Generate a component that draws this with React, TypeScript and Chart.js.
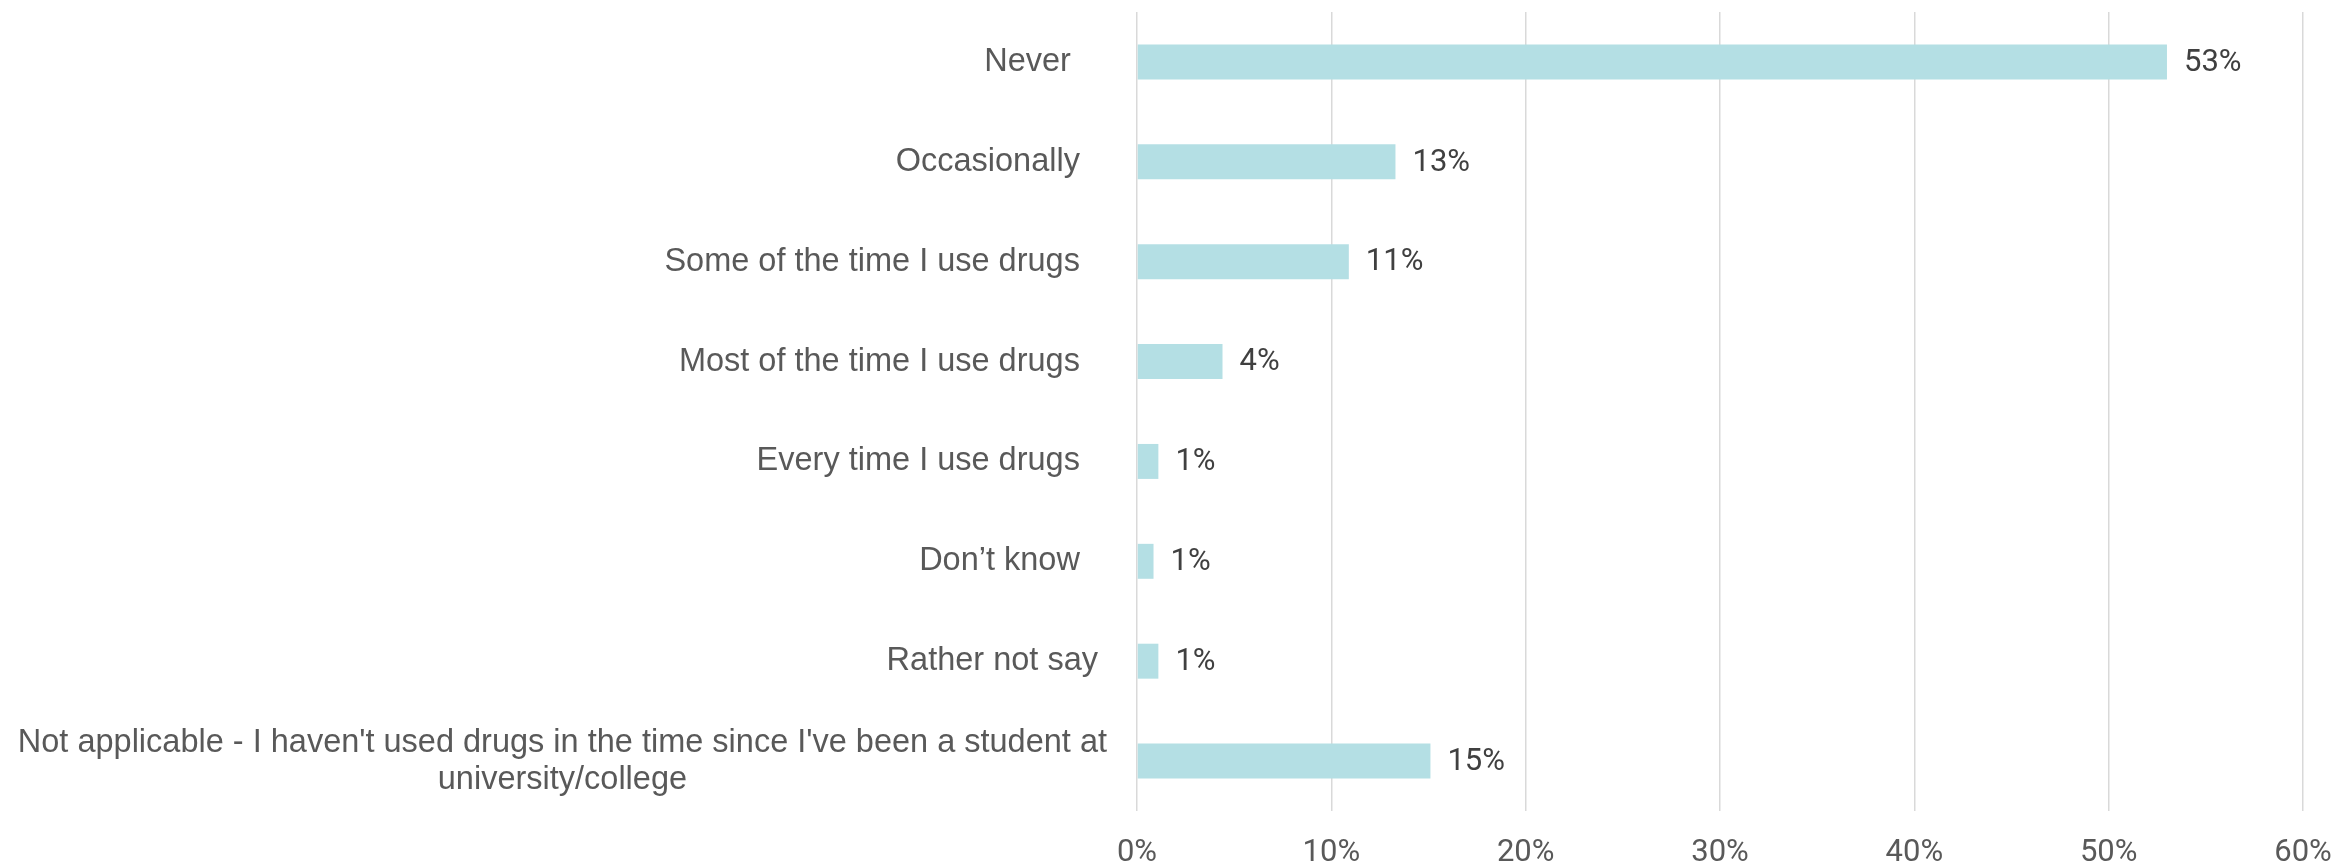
import React, { useEffect, useRef } from "react";
import { Chart, registerables } from "chart.js";

Chart.register(...registerables);

// Category labels (trailing spaces reproduce the original label offsets)
const categories: (string | string[])[] = [
  "Never    ",
  "Occasionally   ",
  "Some of the time I use drugs   ",
  "Most of the time I use drugs   ",
  "Every time I use drugs   ",
  "Don’t know   ",
  "Rather not say ",
  [
    "Not applicable - I haven't used drugs in the time since I've been a student at",
    "university/college",
  ],
];

// Percent values
const values = [53.0, 13.3, 10.9, 4.4, 1.1, 0.85, 1.1, 15.1];

// Axis tick range
const xMin = 0;
const xMax = 60;
const xStep = 10;

const BAR_COLOR = "#B4DFE4";
const GRID_COLOR = "#D9D9D9";
const LABEL_COLOR = "#595959";
const VALUE_COLOR = "#404040";
const CAT_FONT = "Liberation Sans";
const NUM_FONT = "Roboto";
const CAT_SIZE = 32.5;
const NUM_SIZE = 31;

const Y_PAD = 30;

const dataLabelPlugin = {
  id: "dataLabels",
  afterDatasetsDraw(chart: any) {
    const ctx = chart.ctx;
    const meta = chart.getDatasetMeta(0);
    ctx.save();
    ctx.font = `${NUM_SIZE}px "${NUM_FONT}"`;
    ctx.fillStyle = VALUE_COLOR;
    ctx.textAlign = "left";
    ctx.textBaseline = "middle";
    meta.data.forEach((bar: any, i: number) => {
      const p = bar.getProps(["x", "y"], true);
      ctx.fillText(Math.round(values[i]) + "%", p.x + 17, p.y + 1);
    });
    ctx.restore();
  },
};

const multiLineLabelPlugin = {
  id: "multiLineLabel",
  afterDraw(chart: any) {
    const scale = chart.scales.y;
    const ctx = chart.ctx;
    ctx.save();
    ctx.font = `${CAT_SIZE}px "${CAT_FONT}"`;
    ctx.fillStyle = LABEL_COLOR;
    ctx.textAlign = "center";
    ctx.textBaseline = "middle";
    const lineH = 37;
    (chart.data.labels as any[]).forEach((lab, i) => {
      if (!Array.isArray(lab)) return;
      const widest = Math.max(...lab.map((l: string) => ctx.measureText(l).width));
      const cx = scale.right - Y_PAD - widest / 2;
      const cy = scale.getPixelForTick(i);
      const y0 = cy - ((lab.length - 1) * lineH) / 2;
      lab.forEach((l: string, k: number) => ctx.fillText(l, cx, y0 + k * lineH));
    });
    ctx.restore();
  },
};

export default function App() {
  const ref = useRef<HTMLCanvasElement>(null);

  useEffect(() => {
    if (!ref.current) return;
    const chart = new Chart(ref.current, {
      type: "bar",
      data: {
        labels: categories as any,
        datasets: [
          {
            data: values,
            backgroundColor: BAR_COLOR,
            borderWidth: 0,
            barPercentage: 0.35,
            categoryPercentage: 1,
          },
        ],
      },
      options: {
        indexAxis: "y",
        responsive: false,
        animation: false,
        devicePixelRatio: 1,
        layout: { padding: { top: 12, right: 31, bottom: 0, left: 0 } },
        plugins: {
          legend: { display: false },
          tooltip: { enabled: false },
          title: { display: false },
        },
        scales: {
          x: {
            min: xMin,
            max: xMax,
            position: "bottom",
            border: { display: false },
            grid: {
              color: GRID_COLOR,
              lineWidth: 1.5,
              drawTicks: false,
              tickLength: 0,
            },
            ticks: {
              stepSize: xStep,
              padding: 27,
              color: LABEL_COLOR,
              font: { family: NUM_FONT, size: NUM_SIZE, lineHeight: 1 },
              callback: (v: any) => v + "%",
              maxRotation: 0,
            },
            afterFit: (s: any) => {
              s.paddingLeft = 0;
              s.paddingRight = 0;
              s.height = 56;
            },
          },
          y: {
            border: { display: false },
            grid: { display: false, drawTicks: false, tickLength: 0 },
            ticks: {
              padding: Y_PAD,
              autoSkip: false,
              color: (c: any) =>
                Array.isArray(categories[c.index]) ? "rgba(0,0,0,0)" : LABEL_COLOR,
              font: { family: CAT_FONT, size: CAT_SIZE, lineHeight: 1.15 },
            },
            afterFit: (s: any) => {
              s.width = 1137;
              s.paddingTop = 0;
              s.paddingBottom = 0;
            },
          },
        },
      },
      plugins: [dataLabelPlugin, multiLineLabelPlugin],
    });
    return () => chart.destroy();
  }, []);

  return (
    <div style={{ position: "absolute", left: 0, top: 0, width: 2334, height: 867, background: "#fff" }}>
      <canvas ref={ref} width={2334} height={867} style={{ display: "block" }} />
    </div>
  );
}
